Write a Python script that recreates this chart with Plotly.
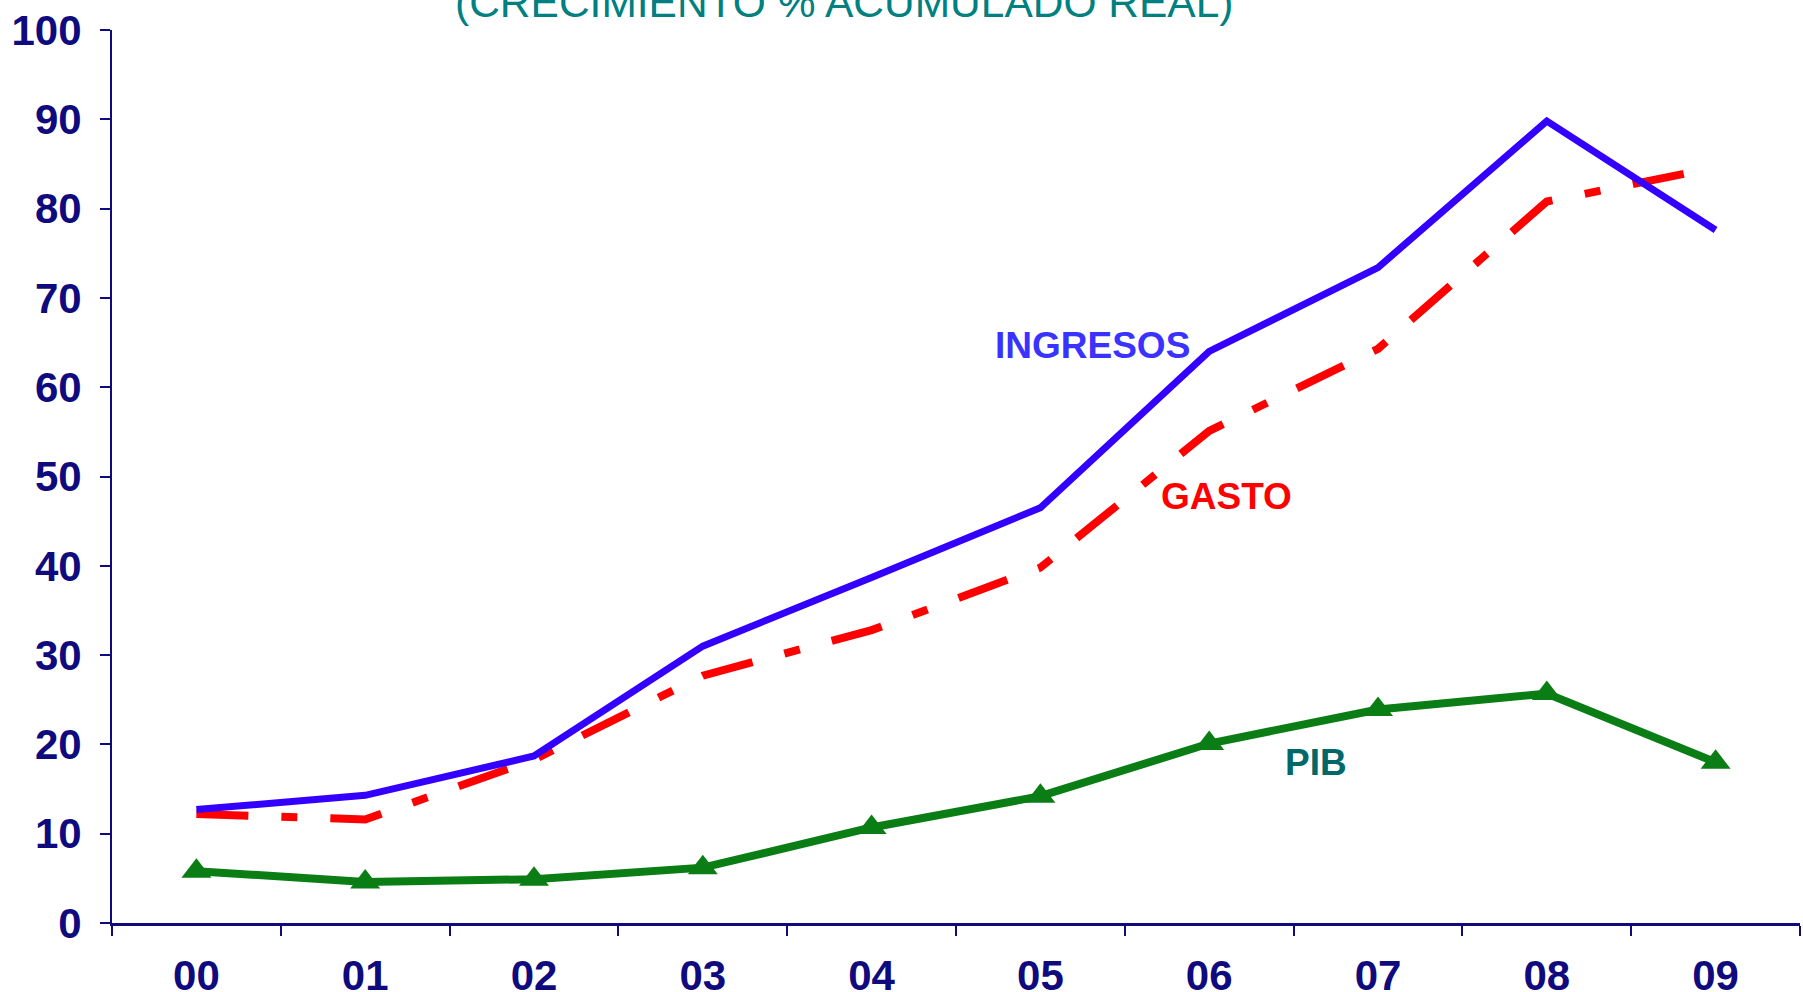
import plotly.graph_objects as go

# colours
NAVY = "#0f0a7d"
BLUE = "#3300ff"
RED = "#ff0000"
GREEN = "#0a7d14"
TEAL = "#008080"
PIB_TEXT = "#006868"
FONT = "Liberation Sans, Arial, sans-serif"

# data (cumulative real % growth)
years = ["00", "01", "02", "03", "04", "05", "06", "07", "08", "09"]
ingresos = [12.7, 14.3, 18.7, 31.0, 38.7, 46.5, 64.0, 73.4, 89.8, 77.6]
gasto = [12.2, 11.6, 18.3, 27.7, 32.8, 39.8, 55.1, 64.3, 80.8, 84.6]
pib = [5.8, 4.6, 4.9, 6.2, 10.7, 14.2, 20.1, 23.9, 25.7, 18.0]
y_ticks = [0, 10, 20, 30, 40, 50, 60, 70, 80, 90, 100]

fig = go.Figure()
fig.add_trace(go.Scatter(
    x=years, y=gasto, mode="lines", name="GASTO",
    line=dict(color=RED, width=8, dash="52px,33px,16px,33px"),
))
fig.add_trace(go.Scatter(
    x=years, y=ingresos, mode="lines", name="INGRESOS",
    line=dict(color=BLUE, width=7),
))
fig.add_trace(go.Scatter(
    x=years, y=pib, mode="lines+markers", name="PIB",
    line=dict(color=GREEN, width=8),
    marker=dict(symbol="triangle-up", size=26, color=GREEN),
))

# series labels placed inside the plot
fig.add_annotation(x=5.31, y=64.7, text="<b>INGRESOS</b>", showarrow=False,
                   font=dict(family=FONT, size=37, color="#3a32ff"))
fig.add_annotation(x=6.1, y=47.8, text="<b>GASTO</b>", showarrow=False,
                   font=dict(family=FONT, size=37, color=RED))
fig.add_annotation(x=6.63, y=18.0, text="<b>PIB</b>", showarrow=False,
                   font=dict(family=FONT, size=37, color=PIB_TEXT))

# title, cut off at the top edge as in the source
fig.add_annotation(xref="paper", yref="paper", x=0.434, y=1.0305,
                   text="(CRECIMIENTO % ACUMULADO REAL)", showarrow=False,
                   yanchor="middle",
                   font=dict(family=FONT, size=42.5, color=TEAL))

fig.update_layout(
    width=1803, height=992,
    margin=dict(l=112, r=3, t=30, b=69),
    plot_bgcolor="white", paper_bgcolor="white",
    showlegend=False,
    font=dict(family=FONT, size=42, color=NAVY),
    xaxis=dict(
        type="category", range=[-0.5, 9.5], automargin=False,
        tickson="boundaries", ticks="outside", ticklen=10, tickwidth=2,
        tickcolor=NAVY, showline=True, linecolor=NAVY, linewidth=3,
        showgrid=False, ticklabelstandoff=14,
        tickfont=dict(family=FONT, size=42, color=NAVY, weight="bold"),
    ),
    yaxis=dict(
        range=[0, 100], tickvals=y_ticks, ticks="outside", ticklen=10,
        tickwidth=2, tickcolor=NAVY, showline=True, linecolor=NAVY,
        linewidth=2, showgrid=False, zeroline=False, ticklabelstandoff=10,
        automargin=False,
        tickfont=dict(family=FONT, size=42, color=NAVY, weight="bold"),
    ),
)

# page body has a default 8px margin; drop it so the figure fills the window
fig.write_html("out.html", config={"displayModeBar": False},
               post_script="document.body.style.margin='0';")
